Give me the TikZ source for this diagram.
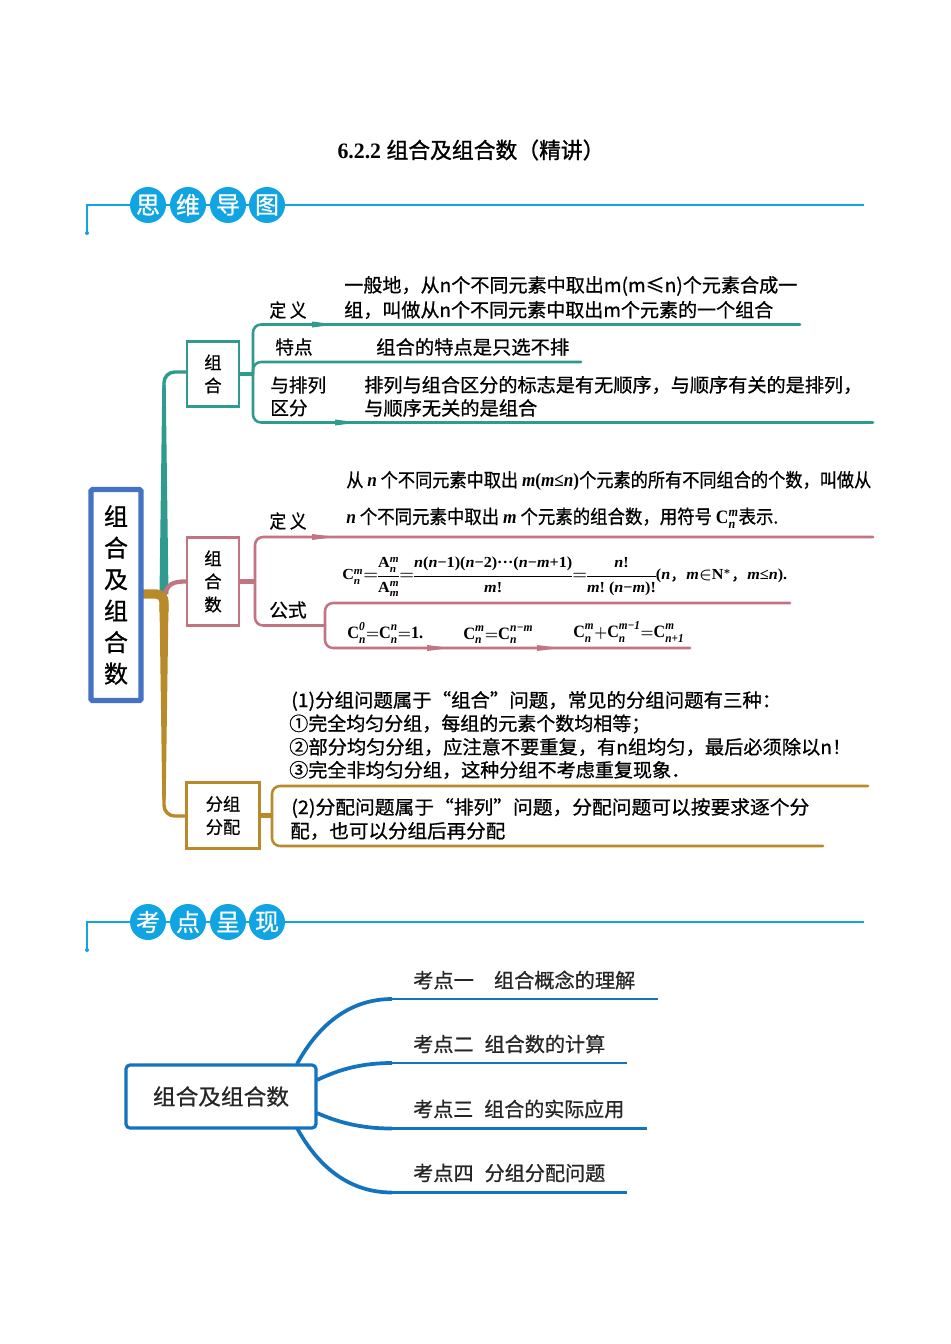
\documentclass[tikz,border=0pt]{standalone}
\usepackage{fontspec}
\usepackage{graphicx}
\usepackage{amsmath}
\setmainfont{Noto Sans CJK SC}[FakeBold=0.8]
\newfontfamily\titlelatin{Liberation Serif}
\usetikzlibrary{calc}
\newdimen\pxu \pxu=.75pt
\newcommand\fitw[2]{\resizebox{#1\pxu}{\height}{#2}}
\newcommand\T[1]{\text{\titlelatin\bfseries #1}}
\newcommand\I[1]{{\titlelatin\bfseries\itshape #1}}
\newcommand\Cc[2]{\T{C}_{\text{\I{#1}}}^{\text{\I{#2}}}}
\newcommand\Aa[2]{\T{A}_{\text{\I{#1}}}^{\text{\I{#2}}}}
\definecolor{tealc}{HTML}{2F9A8E}
\definecolor{rosec}{HTML}{C27480}
\definecolor{goldc}{HTML}{B98A2A}
\definecolor{bluem}{HTML}{4472C4}
\definecolor{headc}{HTML}{10A4E2}
\definecolor{lowb}{HTML}{1273BE}
\newcommand\sliver[3]{\fill[#1] (#2,#3-3) -- (#2+23,#3) -- (#2,#3+3) -- cycle;}
\tikzset{
  x=.75pt,y=-.75pt,
  tx/.style={anchor=west,inner sep=0pt,text=black,font=\fontsize{14.2}{17}\selectfont},
  lab/.style={inner sep=0pt,text=black,font=\fontsize{14}{17}\selectfont},
  lowt/.style={anchor=west,inner sep=0pt,text=black!85,font=\fontsize{15}{18}\selectfont},
  boxa/.style={draw=#1,line width=1.6pt,fill=white,inner sep=0pt,align=center,text=black,font=\fontsize{13}{17.3}\selectfont},
  br/.style={draw=#1,line width=1.9pt,line cap=round,rounded corners=6pt},
  stub/.style={draw=#1,line width=3.4pt},
  head/.style={circle,fill=headc,text=white,inner sep=0pt,minimum size=36\pxu,font=\fontsize{18}{20}\selectfont},
  headl/.style={draw=headc,line width=.8pt},
  lowl/.style={draw=lowb,line width=2pt},
  lowc/.style={draw=lowb,line width=2.8pt},
}
\begin{document}
\begin{tikzpicture}
\useasboundingbox (0,0) rectangle (950,1344);
\fill[white] (0,0) rectangle (950,1344);

% title
\node[inner sep=0pt,text=black,font=\fontsize{16.5}{20}\selectfont] (title) at (471,150) {\fitw{267}{{\titlelatin\bfseries 6.2.2 }\addfontfeature{FakeBold=1.2}组合及组合数（精讲）}};

% header 1
\coordinate (h1a) at (87,233);
\coordinate (h1c) at (864,205);
\node[head] (h11) at (148,205) {思};
\node[head] (h12) at (188,205) {维};
\node[head] (h13) at (228,205) {导};
\node[head] (h14) at (267,205) {图};
\draw[headl] (h1a) |- (h11.west);
\draw[headl] (h11.east) -- (h12.west);
\draw[headl] (h12.east) -- (h13.west);
\draw[headl] (h13.east) -- (h14.west);
\draw[headl] (h14.east) -- (h1c);
\fill[headc] (h1a) circle (2);

% header 2
\coordinate (h2a) at (87,950);
\coordinate (h2c) at (864,922);
\node[head] (h21) at (148,922) {考};
\node[head] (h22) at (188,922) {点};
\node[head] (h23) at (228,922) {呈};
\node[head] (h24) at (267,922) {现};
\draw[headl] (h2a) |- (h21.west);
\draw[headl] (h24.east) -- (h2c);
\draw[headl] (h21.east) -- (h22.west);
\draw[headl] (h22.east) -- (h23.west);
\draw[headl] (h23.east) -- (h24.west);
\fill[headc] (h2a) circle (2);

% trunk connectors first, boxes on top
\coordinate (tj) at (164,596);
\coordinate (gs) at (164,594);
\coordinate (box1w) at (186,372);
\coordinate (box2w) at (186,581.5);
\coordinate (box3w) at (186,816);

\fill[tealc] (162.3,385) -- (165.7,385) -- (168.5,594) -- (159.5,594) -- cycle;
\draw[draw=tealc,line width=2.6pt,rounded corners=8pt] (tj) |- (box1w);
\draw[draw=rosec,line width=3.2pt] (tj) .. controls (168,584) and (172,581.5) .. (box2w);
\fill[goldc] (159.5,604) -- (168.5,604) -- (165.7,800) -- (162.3,800) -- cycle;
\draw[draw=goldc,line width=2.6pt,rounded corners=8pt] (tj) |- (box3w);
\draw[draw=goldc,line width=7pt,rounded corners=6pt] (143,594) -| ($(tj)+(0,16)$);

% boxes
\node[draw=bluem,line width=3.8pt,rounded corners=1pt,fill=white,inner sep=0pt,align=center,text=black,
  minimum width=50\pxu,minimum height=211\pxu,font=\fontsize{18}{23.6}\selectfont] (mainbox) at (116,595) {组\\合\\及\\组\\合\\数};
\node[boxa=tealc,minimum width=52\pxu,minimum height=65\pxu] (box1) at (213,374) {组\\合};
\node[boxa=rosec,minimum width=52\pxu,minimum height=88\pxu] (box2) at (213,581.5) {组\\合\\数};
\node[boxa=goldc,minimum width=73\pxu,minimum height=66\pxu] (box3) at (223,815.5) {分组\\分配};

% teal branch
\coordinate (t1) at (800,324.5);
\coordinate (t2) at (581,362);
\coordinate (t3) at (873,422.5);
\coordinate (tb) at (253,374);
\draw[br=tealc] (t1) -| (tb);
\draw[br=tealc] (t3) -| (tb);
\draw[br=tealc] (t2) -| (tb);
\draw[stub=tealc] (box1.east) -- (tb);
\sliver{tealc}{312}{324.5}
\sliver{tealc}{335}{422.5}

% rose branch
\coordinate (r1) at (873,537);
\coordinate (r2) at (325,625.5);
\coordinate (rb) at (255,581.5);
\coordinate (r3) at (790,603);
\coordinate (r4) at (690,648);
\draw[br=rosec] (r1) -| (rb);
\draw[br=rosec] (r2) -| (rb);
\draw[stub=rosec] (box2.east) -- (rb);
\draw[br=rosec] (r3) -| (r2);
\draw[br=rosec] (r4) -| (r2);
\sliver{rosec}{312}{537}
\sliver{rosec}{427}{648}
\sliver{rosec}{537}{648}
\draw[draw=rosec,line width=2.6pt] ($(r2)+(-12,0)$) -- (r2);

% gold branch
\coordinate (g1) at (868,786);
\coordinate (g2) at (823,846);
\coordinate (gb) at (272,815.5);
\draw[br=goldc] (g1) -| (gb);
\draw[br=goldc] (g2) -| (gb);
\draw[stub=goldc] (box3.east) -- (gb);

% labels of group 1
\node[lab] (d1) at (288,310) {\fitw{37}{定 义}};
\node[lab] (d2) at (294,347) {特点};
\node[lab,anchor=west] (d3) at (270,385) {与排列};
\node[lab,anchor=west] (d4) at (270,408) {区分};
\node[tx] (a1) at (344,286) {\fitw{453}{一般地，从n个不同元素中取出m(m≤n)个元素合成一}};
\node[tx] (a2) at (344,310) {\fitw{429}{组，叫做从n个不同元素中取出m个元素的一个组合}};
\node[tx] (a3) at (376,347) {\fitw{193}{组合的特点是只选不排}};
\node[tx] (a4) at (364,385) {\fitw{498}{排列与组合区分的标志是有无顺序，与顺序有关的是排列，}};
\node[tx] (a5) at (364,408) {\fitw{173}{与顺序无关的是组合}};

% labels of group 2
\node[lab] (e1) at (288,521) {\fitw{37}{定 义}};
\node[lab] (e2) at (288,610) {公式};
\node[tx] (b1) at (346,481) {\fitw{525}{从 \I{n} 个不同元素中取出 \I{m}{\titlelatin\bfseries(}\I{m}{\titlelatin\bfseries≤}\I{n}{\titlelatin\bfseries)}个元素的所有不同组合的个数，叫做从}};
\node[tx] (b2) at (346,518) {\fitw{432}{\I{n} 个不同元素中取出 \I{m} 个元素的组合数，用符号 $\Cc{n}{m}$表示.}};
\node[tx,font=\fontsize{11.5}{13}\selectfont] (f1) at (342,577) {\fitw{445}{\nulldelimiterspace=0pt\boldmath$\Cc{n}{m}{=}\dfrac{\Aa{n}{m}}{\Aa{m}{m}}{=}\dfrac{\T{\I{n}(\I{n}−1)(\I{n}−2)···(\I{n}−\I{m}+1)}}{\T{\I{m}!}}{=}\dfrac{\T{\ \I{n}!\ }}{\T{\I{m}!\ (\I{n}−\I{m})!}}\T{(\I{n}}\text{，}\T{\I{m}}{\in}\T{N}^{*}\text{，}\T{\I{m}≤\I{n}).}$}};
\node[tx,font=\fontsize{13}{15}\selectfont] (f2) at (347,633) {\fitw{76}{\boldmath$\Cc{n}{0}{=}\Cc{n}{n}{=}\T{1.}$}};
\node[tx,font=\fontsize{13}{15}\selectfont] (f3) at (463,635) {\fitw{70}{\boldmath$\Cc{n}{m}{=}\Cc{n}{n−m}$}};
\node[tx,font=\fontsize{13}{15}\selectfont] (f4) at (573,632) {\fitw{111}{\boldmath$\Cc{n}{m}{+}\Cc{n}{m−1}{=}\Cc{n+1}{m}$}};

% labels of group 3
\node[tx] (c1) at (291,701) {\fitw{490}{(1)分组问题属于“组合”问题，常见的分组问题有三种：}};
\node[tx] (c2) at (289,724) {\fitw{361}{①完全均匀分组，每组的元素个数均相等；}};
\node[tx] (c3) at (289,747) {\fitw{562}{②部分均匀分组，应注意不要重复，有n组均匀，最后必须除以n！}};
\node[tx] (c4) at (289,770) {\fitw{401}{③完全非均匀分组，这种分组不考虑重复现象．}};
\node[tx] (c5) at (291,808) {\fitw{518}{(2)分配问题属于“排列”问题，分配问题可以按要求逐个分}};
\node[tx] (c6) at (290,831) {\fitw{215}{配，也可以分组后再分配}};

% lower map
\node[draw=lowb,line width=2.4pt,rounded corners=3pt,fill=white,inner sep=0pt,text=black!85,
  minimum width=190\pxu,minimum height=63\pxu,font=\fontsize{16.5}{18}\selectfont] (low) at (221,1096.5) {\fitw{136}{组合及组合数}};
\coordinate (lc1) at (392,999);
\coordinate (lc2) at (392,1063);
\coordinate (lc3) at (392,1128.5);
\coordinate (lc4) at (392,1192.5);
\coordinate (le1) at (658,999);
\coordinate (le2) at (627,1063);
\coordinate (le3) at (647,1128.5);
\coordinate (le4) at (627,1192.5);
\draw[lowl] (lc1) -- (le1);
\draw[lowl] (lc2) -- (le2);
\draw[lowl] (lc3) -- (le3);
\draw[lowl] (lc4) -- (le4);
\coordinate (ls1) at (297,1064);
\coordinate (ls2) at (317,1080);
\coordinate (ls3) at (317,1113);
\coordinate (ls4) at (297,1128);
\draw[lowc] (ls1) .. controls (320,1022) and (352,999) .. (lc1);
\draw[lowc] (ls2) .. controls (342,1068) and (365,1063) .. (lc2);
\draw[lowc] (ls3) .. controls (342,1124) and (365,1128.5) .. (lc3);
\draw[lowc] (ls4) .. controls (320,1170) and (352,1192.5) .. (lc4);
\node[lowt] (p1) at (413,980) {\fitw{222}{考点一　组合概念的理解}};
\node[lowt] (p2) at (413,1044) {\fitw{192}{考点二\hspace{8.25pt}组合数的计算}};
\node[lowt] (p3) at (413,1109) {\fitw{211}{考点三\hspace{8.25pt}组合的实际应用}};
\node[lowt] (p4) at (413,1173) {\fitw{192}{考点四\hspace{8.25pt}分组分配问题}};
\end{tikzpicture}
\end{document}
